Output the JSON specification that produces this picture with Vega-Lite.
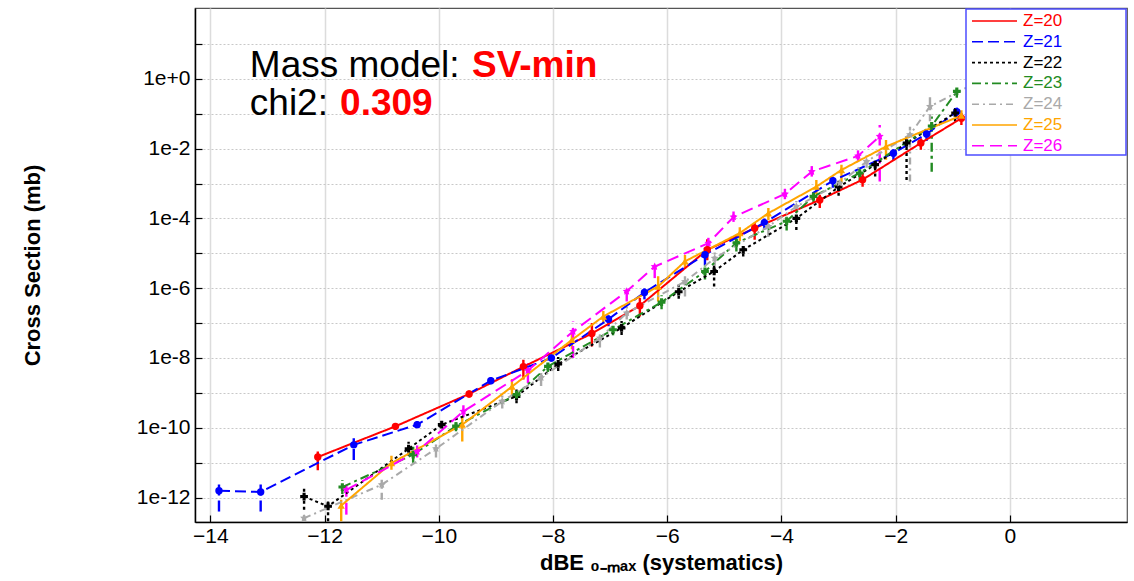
{
  "$schema": "https://vega.github.io/schema/vega-lite/v6.json",
  "width": 932,
  "height": 514,
  "autosize": {"type": "none"},
  "padding": {"left": 195, "top": 8, "right": 7, "bottom": 59},
  "background": "white",
  "config": {
    "font": "Liberation Sans",
    "view": {"stroke": "#555555", "strokeWidth": 1.2},
    "axis": {
      "domainColor": "#000000", "domainWidth": 1.5, "tickColor": "#000000", "tickWidth": 1.2,
      "labelColor": "#000000", "titleColor": "#000000",
      "labelFont": "Liberation Sans", "titleFont": "Liberation Sans",
      "labelFontSize": 21, "titleFontSize": 22, "titleFontWeight": "bold"
    },
    "legend": {
      "orient": "top-right", "offset": 1, "padding": 1, "rowPadding": 1.8,
      "strokeColor": "#4d4dff", "strokeWidth": 1.5, "fillColor": "white",
      "symbolType": "M-2.25,0H2.25", "symbolSize": 400, "symbolStrokeWidth": 1.6,
      "symbolOffset": 16.5, "labelOffset": 17.5,
      "labelFont": "Liberation Sans", "labelFontSize": 17,
      "titleOrient": "right", "titlePadding": 6, "titleFontSize": 17, "titleOpacity": 0,
      "titleFont": "Liberation Sans", "titleFontWeight": "normal"
    }
  },
  "datasets": {
    "pts": [
    {"z":"Z=20","x":-12.12,"y":1.45e-11,"lo":6.03e-12,"hi":2.09e-11},
    {"z":"Z=20","x":-10.76,"y":1.10e-10,"lo":8.7e-11,"hi":1.38e-10},
    {"z":"Z=20","x":-9.47,"y":9.33e-10,"lo":7.41e-10,"hi":1.17e-9},
    {"z":"Z=20","x":-8.52,"y":5.62e-9,"lo":2.40e-9,"hi":8.91e-9},
    {"z":"Z=20","x":-7.32,"y":5.01e-8,"lo":2.14e-8,"hi":1.0e-7},
    {"z":"Z=20","x":-6.48,"y":3.16e-7,"lo":1.55e-7,"hi":5.25e-7},
    {"z":"Z=20","x":-5.3,"y":1.26e-5,"lo":6.31e-6,"hi":2.51e-5},
    {"z":"Z=20","x":-4.47,"y":5.25e-5,"lo":2.45e-5,"hi":7.41e-5},
    {"z":"Z=20","x":-3.33,"y":3.39e-4,"lo":2.0e-4,"hi":4.79e-4},
    {"z":"Z=20","x":-2.58,"y":1.29e-3,"lo":8.1e-4,"hi":2.0e-3},
    {"z":"Z=20","x":-1.56,"y":1.45e-2,"lo":9.3e-3,"hi":2.0e-2},
    {"z":"Z=20","x":-0.85,"y":7.41e-2,"lo":4.79e-2,"hi":1.05e-1},

    {"z":"Z=21","x":-13.85,"y":1.58e-12,"lo":3.98e-13,"hi":2.88e-12},
    {"z":"Z=21","x":-13.12,"y":1.45e-12,"lo":3.98e-13,"hi":2.63e-12},
    {"z":"Z=21","x":-11.49,"y":3.24e-11,"lo":1.20e-11,"hi":5.01e-11},
    {"z":"Z=21","x":-10.38,"y":1.23e-10,"lo":9.8e-11,"hi":1.55e-10},
    {"z":"Z=21","x":-9.09,"y":2.24e-9,"lo":1.78e-9,"hi":2.82e-9},
    {"z":"Z=21","x":-8.03,"y":1.0e-8,"lo":7.9e-9,"hi":1.26e-8},
    {"z":"Z=21","x":-7.03,"y":1.29e-7,"lo":8.13e-8,"hi":2.04e-7},
    {"z":"Z=21","x":-6.4,"y":7.59e-7,"lo":4.79e-7,"hi":1.2e-6},
    {"z":"Z=21","x":-5.34,"y":9.12e-6,"lo":4.57e-6,"hi":1.45e-5},
    {"z":"Z=21","x":-4.3,"y":7.59e-5,"lo":4.79e-5,"hi":1.2e-4},
    {"z":"Z=21","x":-3.1,"y":1.2e-3,"lo":7.59e-4,"hi":1.91e-3},
    {"z":"Z=21","x":-2.04,"y":7.41e-3,"lo":4.68e-3,"hi":1.17e-2},
    {"z":"Z=21","x":-1.46,"y":2.63e-2,"lo":1.66e-2,"hi":4.17e-2},
    {"z":"Z=21","x":-0.93,"y":1.15e-1,"lo":7.24e-2,"hi":1.82e-1},

    {"z":"Z=22","x":-12.36,"y":1.07e-12,"lo":4.47e-13,"hi":1.91e-12},
    {"z":"Z=22","x":-11.94,"y":5.62e-13,"lo":2.09e-13,"hi":7.76e-13},
    {"z":"Z=22","x":-10.53,"y":2.51e-11,"lo":1.58e-11,"hi":3.98e-11},
    {"z":"Z=22","x":-9.95,"y":1.23e-10,"lo":9.8e-11,"hi":1.55e-10},
    {"z":"Z=22","x":-8.64,"y":7.94e-10,"lo":5.01e-10,"hi":1.26e-9},
    {"z":"Z=22","x":-7.91,"y":6.76e-9,"lo":4.27e-9,"hi":1.07e-8},
    {"z":"Z=22","x":-6.8,"y":7.24e-8,"lo":4.57e-8,"hi":1.15e-7},
    {"z":"Z=22","x":-5.8,"y":7.94e-7,"lo":5.01e-7,"hi":1.26e-6},
    {"z":"Z=22","x":-5.18,"y":3.02e-6,"lo":1.12e-6,"hi":5.25e-6},
    {"z":"Z=22","x":-4.67,"y":1.26e-5,"lo":8.13e-6,"hi":1.74e-5},
    {"z":"Z=22","x":-3.74,"y":1.0e-4,"lo":4.68e-5,"hi":1.41e-4},
    {"z":"Z=22","x":-3.0,"y":7.94e-4,"lo":4.47e-4,"hi":1.26e-3},
    {"z":"Z=22","x":-2.36,"y":3.47e-3,"lo":1.58e-3,"hi":4.27e-3},
    {"z":"Z=22","x":-1.81,"y":1.45e-2,"lo":1.26e-3,"hi":2.24e-2},
    {"z":"Z=22","x":-0.96,"y":1.05e-1,"lo":6.03e-2,"hi":1.45e-1},

    {"z":"Z=23","x":-11.69,"y":2.0e-12,"lo":1.26e-12,"hi":3.16e-12},
    {"z":"Z=23","x":-10.45,"y":1.70e-11,"lo":1.0e-11,"hi":3.16e-11},
    {"z":"Z=23","x":-9.7,"y":1.12e-10,"lo":7.94e-11,"hi":1.58e-10},
    {"z":"Z=23","x":-8.64,"y":8.91e-10,"lo":6.31e-10,"hi":1.26e-9},
    {"z":"Z=23","x":-8.09,"y":5.75e-9,"lo":3.98e-9,"hi":7.94e-9},
    {"z":"Z=23","x":-6.95,"y":6.46e-8,"lo":4.47e-8,"hi":1.0e-7},
    {"z":"Z=23","x":-6.1,"y":3.98e-7,"lo":2.51e-7,"hi":6.31e-7},
    {"z":"Z=23","x":-5.34,"y":3.02e-6,"lo":1.78e-6,"hi":4.47e-6},
    {"z":"Z=23","x":-4.79,"y":2.0e-5,"lo":1.12e-5,"hi":2.82e-5},
    {"z":"Z=23","x":-3.91,"y":8.32e-5,"lo":4.47e-5,"hi":1.12e-4},
    {"z":"Z=23","x":-3.44,"y":4.27e-4,"lo":2.82e-4,"hi":6.31e-4},
    {"z":"Z=23","x":-2.63,"y":2.0e-3,"lo":1.12e-3,"hi":2.82e-3},
    {"z":"Z=23","x":-1.37,"y":4.47e-2,"lo":2.19e-3,"hi":8.32e-2},
    {"z":"Z=23","x":-0.93,"y":4.37e-1,"lo":2.88e-1,"hi":6.76e-1},

    {"z":"Z=24","x":-12.36,"y":2.57e-13,"lo":2.0e-13,"hi":3.55e-13},
    {"z":"Z=24","x":-11.0,"y":2.34e-12,"lo":8.71e-13,"hi":3.24e-12},
    {"z":"Z=24","x":-10.05,"y":2.51e-11,"lo":1.41e-11,"hi":3.98e-11},
    {"z":"Z=24","x":-8.89,"y":5.75e-10,"lo":3.55e-10,"hi":8.91e-10},
    {"z":"Z=24","x":-8.21,"y":2.75e-9,"lo":1.58e-9,"hi":3.98e-9},
    {"z":"Z=24","x":-7.18,"y":3.72e-8,"lo":2.0e-8,"hi":5.01e-8},
    {"z":"Z=24","x":-6.71,"y":1.95e-7,"lo":1.26e-7,"hi":3.16e-7},
    {"z":"Z=24","x":-5.69,"y":1.55e-6,"lo":5.75e-7,"hi":2.19e-6},
    {"z":"Z=24","x":-5.17,"y":7.24e-6,"lo":4.47e-6,"hi":1.12e-5},
    {"z":"Z=24","x":-4.23,"y":5.89e-5,"lo":2.95e-5,"hi":7.41e-5},
    {"z":"Z=24","x":-3.74,"y":2.19e-4,"lo":1.41e-4,"hi":3.16e-4},
    {"z":"Z=24","x":-2.98,"y":1.02e-3,"lo":7.08e-4,"hi":1.41e-3},
    {"z":"Z=24","x":-2.51,"y":4.27e-3,"lo":2.82e-3,"hi":6.31e-3},
    {"z":"Z=24","x":-1.75,"y":2.51e-2,"lo":1.15e-3,"hi":4.27e-2},
    {"z":"Z=24","x":-1.4,"y":1.62e-1,"lo":2.0e-2,"hi":3.09e-1},
    {"z":"Z=24","x":-0.7,"y":6.31e-1,"lo":4.47e-1,"hi":8.91e-1},

    {"z":"Z=25","x":-11.71,"y":5.89e-13,"lo":2.09e-13,"hi":8.71e-13},
    {"z":"Z=25","x":-10.83,"y":9.77e-12,"lo":6.31e-12,"hi":1.58e-11},
    {"z":"Z=25","x":-9.59,"y":1.23e-10,"lo":4.07e-11,"hi":1.91e-10},
    {"z":"Z=25","x":-8.72,"y":1.51e-9,"lo":7.94e-10,"hi":2.51e-9},
    {"z":"Z=25","x":-7.67,"y":3.31e-8,"lo":1.78e-8,"hi":5.62e-8},
    {"z":"Z=25","x":-7.12,"y":1.55e-7,"lo":1.0e-7,"hi":2.24e-7},
    {"z":"Z=25","x":-6.16,"y":1.12e-6,"lo":4.17e-7,"hi":2.19e-6},
    {"z":"Z=25","x":-5.69,"y":5.89e-6,"lo":3.55e-6,"hi":8.91e-6},
    {"z":"Z=25","x":-4.73,"y":3.8e-5,"lo":2.24e-5,"hi":5.62e-5},
    {"z":"Z=25","x":-4.23,"y":1.41e-4,"lo":8.91e-5,"hi":2.0e-4},
    {"z":"Z=25","x":-3.39,"y":8.13e-4,"lo":5.01e-4,"hi":1.26e-3},
    {"z":"Z=25","x":-2.95,"y":2.45e-3,"lo":1.02e-3,"hi":3.47e-3},
    {"z":"Z=25","x":-2.17,"y":1.15e-2,"lo":4.79e-3,"hi":1.78e-2},
    {"z":"Z=25","x":-0.85,"y":8.91e-2,"lo":6.31e-2,"hi":1.26e-1},

    {"z":"Z=26","x":-11.62,"y":1.66e-12,"lo":3.24e-13,"hi":2.88e-12},
    {"z":"Z=26","x":-10.38,"y":2.09e-11,"lo":1.41e-11,"hi":3.16e-11},
    {"z":"Z=26","x":-9.57,"y":2.95e-10,"lo":2.0e-10,"hi":4.47e-10},
    {"z":"Z=26","x":-8.44,"y":4.37e-9,"lo":1.91e-9,"hi":7.08e-9},
    {"z":"Z=26","x":-7.65,"y":5.75e-8,"lo":1.0e-8,"hi":1.12e-7},
    {"z":"Z=26","x":-6.71,"y":8.13e-7,"lo":4.17e-7,"hi":1.26e-6},
    {"z":"Z=26","x":-6.22,"y":4.17e-6,"lo":1.95e-6,"hi":5.89e-6},
    {"z":"Z=26","x":-5.28,"y":1.95e-5,"lo":1.26e-5,"hi":3.8e-5},
    {"z":"Z=26","x":-4.84,"y":1.1e-4,"lo":7.94e-5,"hi":1.58e-4},
    {"z":"Z=26","x":-3.94,"y":5.01e-4,"lo":3.55e-4,"hi":7.08e-4},
    {"z":"Z=26","x":-3.47,"y":2.19e-3,"lo":1.58e-3,"hi":3.16e-3},
    {"z":"Z=26","x":-2.66,"y":6.17e-3,"lo":4.47e-3,"hi":8.91e-3},
    {"z":"Z=26","x":-2.28,"y":2.24e-2,"lo":1.15e-3,"hi":4.79e-2}
    ]
  },
  "layer": [
    {
      "data": {"name": "pts"},
      "mark": {"type": "rule", "strokeWidth": 2.4, "clip": true},
      "encoding": {
        "x": {"field": "x", "type": "quantitative",
          "scale": {"domain": [-14.27, 2.05], "nice": false, "zero": false},
          "axis": {
            "title": "dBE \u2080\u208b\u2098\u2090\u2093 (systematics)",
            "values": [-14, -12, -10, -8, -6, -4, -2, 0], "format": "d",
            "grid": true, "gridColor": "#dcdcdc", "gridWidth": 1.5,
            "tickSize": -7, "labelPadding": 10, "titlePadding": 6, "labelFlush": false
          }},
        "y": {"field": "lo", "type": "quantitative",
          "scale": {"type": "log", "domain": [1.995e-13, 107.2], "nice": false},
          "axis": {
            "title": "Cross Section (mb)",
            "values": [1e-12, 1e-11, 1e-10, 1e-9, 1e-8, 1e-7, 1e-6, 1e-5, 1e-4, 1e-3, 1e-2, 1e-1, 1, 10],
            "labelExpr": "(round(log(datum.value)/LN10) % 2 != 0) ? '' : ((round(log(datum.value)/LN10) >= 0 ? '1e+' : '1e') + round(log(datum.value)/LN10))",
            "grid": true, "gridColor": "#c8c8c8", "gridDash": [2, 2],
            "tickSize": -7, "labelPadding": 12, "titlePadding": 92
          }},
        "y2": {"field": "hi"},
        "color": {"field": "z", "type": "nominal",
          "scale": {"domain": ["Z=20","Z=21","Z=22","Z=23","Z=24","Z=25","Z=26"],
                    "range": ["#ff0000","#0000ff","#000000","#228b22","#a9a9a9","#ffa500","#ff00ff"]},
          "legend": {"title": "MMMM",
            "encode": {
              "labels": {"update": {"fill": {"scale": "color", "field": "value"}}},
              "symbols": {"update": {"shape": {"value": "M-2.25,0H2.25"}, "fill": {"value": "transparent"},
                "stroke": {"scale": "color", "field": "value"}, "strokeDash": {"scale": "strokeDash", "field": "value"},
                "strokeWidth": {"value": 1.6}, "opacity": {"value": 1}}}}}},
        "strokeDash": {"field": "z", "type": "nominal",
          "scale": {"domain": ["Z=20","Z=21","Z=22","Z=23","Z=24","Z=25","Z=26"],
                    "range": [[1,0],[11,5],[3,3],[9,4,3,4],[7,4,2,4],[1,0],[12,6]]},
          "legend": {"title": "MMMM"}}
      }
    },
    {
      "data": {"name": "pts"},
      "mark": {"type": "line", "strokeWidth": 2, "clip": true},
      "encoding": {
        "x": {"field": "x", "type": "quantitative"},
        "y": {"field": "y", "type": "quantitative", "title": "Cross Section (mb)"},
        "color": {"field": "z", "type": "nominal"},
        "strokeDash": {"field": "z", "type": "nominal"}
      }
    },
    {
      "data": {"name": "pts"},
      "transform": [{"filter": {"field": "z", "oneOf": ["Z=20", "Z=21"]}}],
      "mark": {"type": "point", "shape": "circle", "filled": true, "size": 55, "opacity": 1, "clip": true},
      "encoding": {
        "x": {"field": "x", "type": "quantitative"},
        "y": {"field": "y", "type": "quantitative", "title": "Cross Section (mb)"},
        "fill": {"field": "z", "type": "nominal", "legend": null,
          "scale": {"domain": ["Z=20","Z=21","Z=22","Z=23","Z=24","Z=25","Z=26"],
                    "range": ["#ff0000","#0000ff","#000000","#228b22","#a9a9a9","#ffa500","#ff00ff"]}}
      }
    },
    {
      "data": {"name": "pts"},
      "transform": [{"filter": {"field": "z", "oneOf": ["Z=22", "Z=23"]}}],
      "mark": {"type": "point", "shape": "cross", "filled": true, "size": 60, "opacity": 1, "clip": true},
      "encoding": {
        "x": {"field": "x", "type": "quantitative"},
        "y": {"field": "y", "type": "quantitative", "title": "Cross Section (mb)"},
        "fill": {"field": "z", "type": "nominal", "legend": null}
      }
    },
    {
      "data": {"name": "pts"},
      "transform": [{"filter": {"field": "z", "oneOf": ["Z=24", "Z=26"]}}],
      "mark": {"type": "point", "shape": "M0,-1L0.29,-0.4L0.95,-0.31L0.47,0.15L0.59,0.81L0,0.5L-0.59,0.81L-0.47,0.15L-0.95,-0.31L-0.29,-0.4Z", "filled": true, "size": 70, "opacity": 1, "clip": true},
      "encoding": {
        "x": {"field": "x", "type": "quantitative"},
        "y": {"field": "y", "type": "quantitative", "title": "Cross Section (mb)"},
        "fill": {"field": "z", "type": "nominal", "legend": null}
      }
    },
    {
      "data": {"name": "pts"},
      "transform": [{"filter": {"field": "z", "oneOf": ["Z=25"]}}],
      "mark": {"type": "point", "shape": "triangle-up", "filled": true, "size": 55, "opacity": 1, "clip": true},
      "encoding": {
        "x": {"field": "x", "type": "quantitative"},
        "y": {"field": "y", "type": "quantitative", "title": "Cross Section (mb)"},
        "fill": {"field": "z", "type": "nominal", "legend": null}
      }
    },
    {
      "data": {"values": [{"note": "Mass model:"}]},
      "mark": {"type": "text", "align": "left", "baseline": "alphabetic", "fontSize": 37, "font": "Liberation Sans", "fill": "#000000", "invalid": "show"},
      "encoding": {"text": {"field": "note", "type": "nominal"}, "x": {"datum": -13.31}, "y": {"datum": 1.14}}
    },
    {
      "data": {"values": [{"note": "SV-min"}]},
      "mark": {"type": "text", "align": "left", "baseline": "alphabetic", "fontSize": 37, "fontWeight": "bold", "font": "Liberation Sans", "fill": "#ff0000", "invalid": "show"},
      "encoding": {"text": {"field": "note", "type": "nominal"}, "x": {"datum": -9.42}, "y": {"datum": 1.14}}
    },
    {
      "data": {"values": [{"note": "chi2:"}]},
      "mark": {"type": "text", "align": "left", "baseline": "alphabetic", "fontSize": 37, "font": "Liberation Sans", "fill": "#000000", "invalid": "show"},
      "encoding": {"text": {"field": "note", "type": "nominal"}, "x": {"datum": -13.31}, "y": {"datum": 0.093}}
    },
    {
      "data": {"values": [{"note": "0.309"}]},
      "mark": {"type": "text", "align": "left", "baseline": "alphabetic", "fontSize": 37, "fontWeight": "bold", "font": "Liberation Sans", "fill": "#ff0000", "invalid": "show"},
      "encoding": {"text": {"field": "note", "type": "nominal"}, "x": {"datum": -11.73}, "y": {"datum": 0.093}}
    }
  ]
}
